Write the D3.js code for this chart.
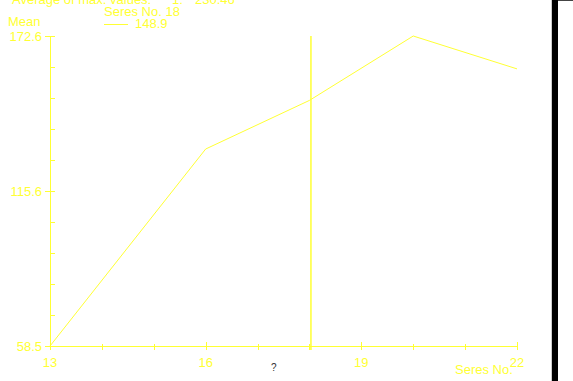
<!DOCTYPE html>
<html><head><meta charset="utf-8">
<script src="https://cdn.jsdelivr.net/npm/d3@7"></script>
<style>
html,body{margin:0;padding:0;background:#fff;overflow:hidden;}
svg text{font-family:"Liberation Sans",Arial,sans-serif;font-size:13px;fill:#ffff33;}
</style></head><body>
<svg id="c" width="573" height="381"></svg>
<script>
const seriesNo = [13, 16, 18, 20, 22];
const meanValues = [58.5, 131.0, 148.9, 172.6, 160.5];
const xTickLabels = [13, 16, 19, 22];
const yTickLabels = [58.5, 115.6, 172.6];
const cursorSeries = 18;
const cursorValue = 148.9;
const avgMaxText = ["Average of max. values:", "1:", "230.46"];

const col = "#ffff33";
const svg = d3.select("#c");
const x = d3.scaleLinear().domain([13, 22]).range([50, 517]);
const y = d3.scaleLinear().domain([58.5, 172.6]).range([346, 36]);

// header texts
svg.append("text").attr("x", 12).attr("y", 4).text(avgMaxText[0]);
svg.append("text").attr("x", 172).attr("y", 4).text(avgMaxText[1]);
svg.append("text").attr("x", 195).attr("y", 4).text(avgMaxText[2]);
svg.append("text").attr("x", 104).attr("y", 16).text("Seres No. " + cursorSeries);
svg.append("text").attr("x", 8).attr("y", 26).text("Mean");
svg.append("line").attr("x1", 104).attr("x2", 128).attr("y1", 24.5).attr("y2", 24.5).attr("stroke", col);
svg.append("text").attr("x", 135).attr("y", 28).text(cursorValue.toFixed(1));

// y axis
const g = svg.append("g");
g.append("line").attr("x1", 50.5).attr("x2", 50.5).attr("y1", y(172.6)).attr("y2", y(58.5)).attr("stroke", col);
const yMinor = d3.range(0, 11).map(i => 58.5 + i * (172.6 - 58.5) / 10);
yMinor.forEach((v, i) => {
  const major = i % 5 === 0;
  g.append("line").attr("x1", major ? 45 : 50).attr("x2", 55)
    .attr("y1", Math.round(y(v)) + 0.5).attr("y2", Math.round(y(v)) + 0.5).attr("stroke", col);
});
yTickLabels.forEach(v => {
  g.append("text").attr("x", 42).attr("y", y(v) + 5).attr("text-anchor", "end").text(v.toFixed(1));
});

// x axis
g.append("line").attr("x1", x(13)).attr("x2", x(22)).attr("y1", 346.5).attr("y2", 346.5).attr("stroke", col);
d3.range(13, 23).forEach(v => {
  const major = xTickLabels.includes(v);
  g.append("line").attr("x1", Math.round(x(v)) + 0.5).attr("x2", Math.round(x(v)) + 0.5)
    .attr("y1", major ? 342 : 344).attr("y2", 350).attr("stroke", col);
});
xTickLabels.forEach(v => {
  g.append("text").attr("x", x(v)).attr("y", 367).attr("text-anchor", "middle").text(v);
});
svg.append("text").attr("x", 455).attr("y", 374).text("Seres No.");
svg.append("text").attr("x", 271).attr("y", 371).style("fill", "#333").style("font-size", "10px").text("?");

// line
svg.append("path").datum(seriesNo.map((s, i) => [s, meanValues[i]]))
  .attr("d", d3.line().x(d => x(d[0])).y(d => y(d[1])))
  .attr("fill", "none").attr("stroke", col).attr("stroke-width", 1);

// cursor
svg.append("line").attr("x1", x(cursorSeries) + 1.5).attr("x2", x(cursorSeries) + 1.5)
  .attr("y1", 36).attr("y2", 350).attr("stroke", col).attr("stroke-width", 1.5);

// right border
svg.append("rect").attr("x", 551).attr("y", 0).attr("width", 1).attr("height", 381).attr("fill", "#ccc");
svg.append("rect").attr("x", 552).attr("y", 0).attr("width", 6).attr("height", 381).attr("fill", "#000");
svg.append("rect").attr("x", 558).attr("y", 0).attr("width", 15).attr("height", 1).attr("fill", "#444");
</script></body></html>
